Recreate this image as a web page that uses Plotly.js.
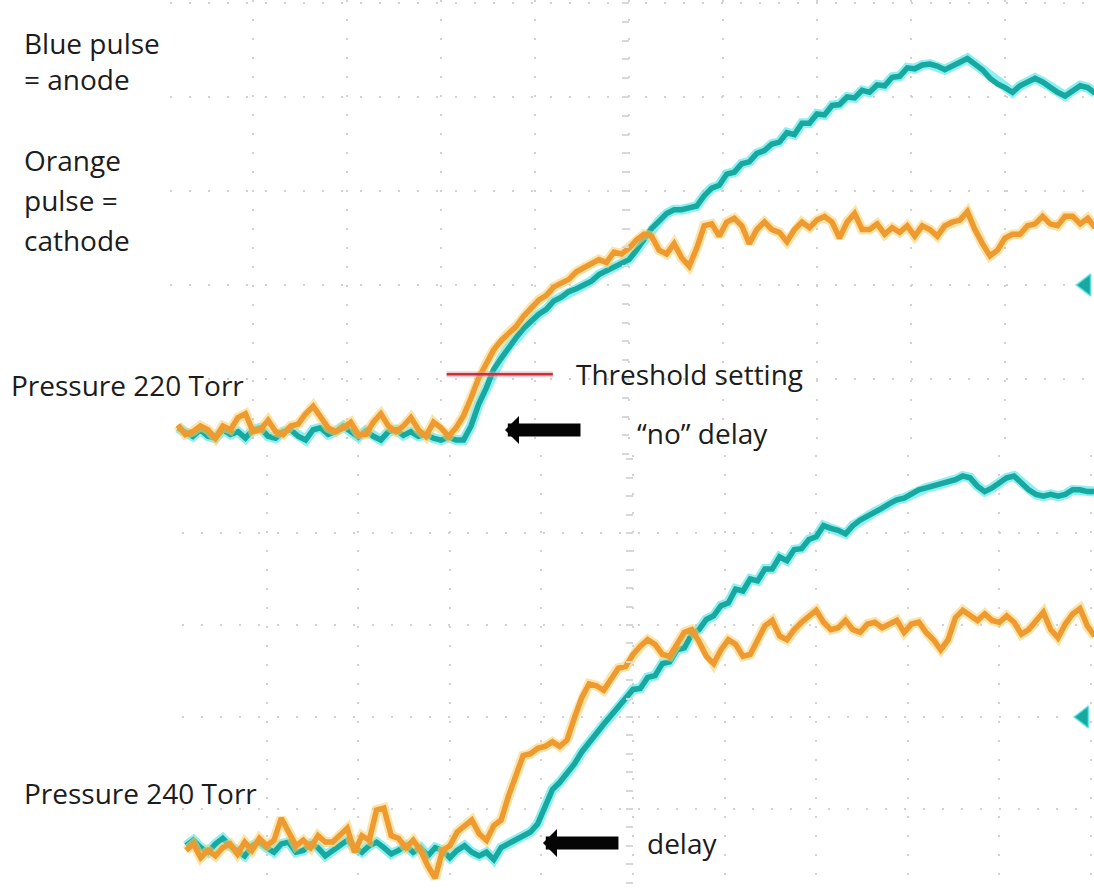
<!DOCTYPE html>
<html>
<head>
<meta charset="utf-8">
<script src="https://cdn.plot.ly/plotly-3.0.1.min.js"></script>
<style>
  html, body { margin: 0; padding: 0; background: #ffffff; }
  #chart { width: 1094px; height: 888px; }
</style>
</head>
<body>
<div id="chart"></div>
<script>
// ---- Data (time and amplitude in scope divisions) ----
// Upper capture: Pressure 220 Torr
const timeTop = [-4.80,-4.72,-4.64,-4.56,-4.48,-4.40,-4.32,-4.24,-4.16,-4.08,-4.00,-3.92,-3.84,-3.76,-3.68,-3.60,-3.52,-3.44,-3.36,-3.28,-3.20,-3.12,-3.04,-2.96,-2.88,-2.80,-2.72,-2.64,-2.56,-2.48,-2.40,-2.32,-2.24,-2.16,-2.08,-2.00,-1.92,-1.84,-1.76,-1.68,-1.60,-1.52,-1.44,-1.36,-1.28,-1.20,-1.12,-1.04,-0.96,-0.88,-0.80,-0.72,-0.64,-0.56,-0.48,-0.40,-0.32,-0.24,-0.16,-0.08,0.00,0.08,0.16,0.24,0.32,0.40,0.48,0.56,0.64,0.72,0.80,0.88,0.96,1.04,1.12,1.20,1.28,1.36,1.44,1.52,1.60,1.68,1.76,1.84,1.92,2.00,2.08,2.16,2.24,2.32,2.40,2.48,2.56,2.64,2.72,2.80,2.88,2.96,3.04,3.12,3.20,3.28,3.36,3.44,3.52,3.60,3.68,3.76,3.84,3.92,4.00,4.08,4.16,4.24,4.32,4.40,4.48,4.56,4.64,4.72,4.80,4.88,4.96];
const anodeTop = [-1.52,-1.56,-1.61,-1.54,-1.61,-1.63,-1.54,-1.59,-1.56,-1.63,
  -1.54,-1.52,-1.61,-1.63,-1.56,-1.54,-1.61,-1.65,-1.54,-1.52,
  -1.59,-1.56,-1.50,-1.56,-1.62,-1.55,-1.61,-1.65,-1.56,-1.54,
  -1.60,-1.56,-1.61,-1.59,-1.63,-1.65,-1.62,-1.65,-1.65,-1.50,
  -1.27,-1.10,-0.90,-0.78,-0.66,-0.56,-0.46,-0.39,-0.31,-0.26,
  -0.17,-0.13,-0.07,-0.04,0.00,0.04,0.11,0.15,0.18,0.22,
  0.27,0.37,0.48,0.60,0.68,0.76,0.80,0.80,0.82,0.84,
  0.95,1.03,1.06,1.18,1.20,1.29,1.31,1.40,1.43,1.50,
  1.52,1.62,1.60,1.72,1.72,1.82,1.81,1.91,1.92,2.00,
  1.99,2.07,2.05,2.13,2.12,2.21,2.22,2.31,2.30,2.34,
  2.35,2.33,2.29,2.33,2.37,2.41,2.35,2.29,2.20,2.14,
  2.10,2.05,2.12,2.16,2.20,2.16,2.10,2.05,2.01,2.07,
  2.12,2.10,2.04];
const cathodeTop = [-1.49,-1.59,-1.56,-1.50,-1.54,-1.63,-1.50,-1.54,-1.41,-1.37,
  -1.56,-1.54,-1.44,-1.56,-1.59,-1.50,-1.48,-1.37,-1.29,-1.41,
  -1.52,-1.56,-1.52,-1.46,-1.59,-1.59,-1.46,-1.37,-1.50,-1.56,
  -1.50,-1.41,-1.54,-1.61,-1.46,-1.52,-1.61,-1.52,-1.39,-1.20,
  -0.99,-0.84,-0.69,-0.59,-0.51,-0.44,-0.33,-0.24,-0.16,-0.11,
  -0.02,0.02,0.06,0.14,0.18,0.23,0.27,0.24,0.35,0.33,
  0.39,0.48,0.54,0.52,0.37,0.33,0.44,0.29,0.20,0.39,
  0.63,0.65,0.52,0.67,0.71,0.63,0.44,0.59,0.67,0.59,
  0.56,0.46,0.59,0.67,0.61,0.69,0.73,0.67,0.50,0.67,
  0.76,0.59,0.59,0.65,0.54,0.61,0.56,0.63,0.52,0.63,
  0.59,0.52,0.63,0.67,0.69,0.78,0.59,0.44,0.31,0.37,
  0.50,0.54,0.54,0.63,0.65,0.73,0.65,0.63,0.73,0.73,
  0.65,0.71,0.61];

// Lower capture: Pressure 240 Torr
const timeBottom = [-4.88,-4.80,-4.72,-4.64,-4.56,-4.48,-4.40,-4.32,-4.24,-4.16,-4.08,-4.00,-3.92,-3.84,-3.76,-3.68,-3.60,-3.52,-3.44,-3.36,-3.28,-3.20,-3.12,-3.04,-2.96,-2.88,-2.80,-2.72,-2.64,-2.56,-2.48,-2.40,-2.32,-2.24,-2.16,-2.08,-2.00,-1.92,-1.84,-1.76,-1.68,-1.60,-1.52,-1.44,-1.36,-1.28,-1.20,-1.12,-1.04,-0.96,-0.88,-0.80,-0.72,-0.64,-0.56,-0.48,-0.40,-0.32,-0.24,-0.16,-0.08,0.00,0.08,0.16,0.24,0.32,0.40,0.48,0.56,0.64,0.72,0.80,0.88,0.96,1.04,1.12,1.20,1.28,1.36,1.44,1.52,1.60,1.68,1.76,1.84,1.92,2.00,2.08,2.16,2.24,2.32,2.40,2.48,2.56,2.64,2.72,2.80,2.88,2.96,3.04,3.12,3.20,3.28,3.36,3.44,3.52,3.60,3.68,3.76,3.84,3.92,4.00,4.08,4.16,4.24,4.32,4.40,4.48,4.56,4.64,4.72,4.80,4.88,4.96,5.04];
const anodeBottom = [-1.40,-1.34,-1.42,-1.47,-1.38,-1.32,-1.40,-1.45,-1.51,-1.40,
  -1.36,-1.42,-1.47,-1.38,-1.36,-1.47,-1.45,-1.38,-1.42,-1.51,
  -1.45,-1.40,-1.34,-1.42,-1.47,-1.40,-1.36,-1.42,-1.49,-1.45,
  -1.40,-1.47,-1.42,-1.51,-1.42,-1.45,-1.53,-1.45,-1.40,-1.47,
  -1.51,-1.47,-1.55,-1.42,-1.38,-1.34,-1.29,-1.25,-1.16,-0.99,
  -0.79,-0.71,-0.62,-0.51,-0.38,-0.27,-0.18,-0.08,0.01,0.12,
  0.21,0.30,0.31,0.43,0.45,0.58,0.60,0.73,0.75,0.90,
  0.95,1.06,1.10,1.21,1.24,1.39,1.37,1.50,1.48,1.61,
  1.61,1.74,1.70,1.82,1.83,1.93,1.96,2.08,2.05,2.03,
  1.99,2.08,2.14,2.18,2.23,2.27,2.32,2.36,2.38,2.42,
  2.47,2.49,2.51,2.53,2.55,2.58,2.62,2.60,2.51,2.45,
  2.49,2.55,2.60,2.62,2.55,2.47,2.42,2.40,2.42,2.40,
  2.42,2.47,2.47,2.45,2.45];
const cathodeBottom = [-1.45,-1.38,-1.53,-1.45,-1.51,-1.42,-1.38,-1.49,-1.36,-1.45,
  -1.32,-1.40,-1.34,-1.10,-1.25,-1.40,-1.34,-1.42,-1.29,-1.36,
  -1.36,-1.29,-1.21,-1.47,-1.29,-1.34,-1.01,-0.99,-1.29,-1.32,
  -1.42,-1.34,-1.45,-1.62,-1.75,-1.45,-1.40,-1.25,-1.18,-1.12,
  -1.27,-1.34,-1.18,-1.12,-0.86,-0.62,-0.42,-0.40,-0.34,-0.32,
  -0.27,-0.32,-0.25,-0.01,0.21,0.36,0.34,0.29,0.42,0.53,
  0.55,0.68,0.77,0.84,0.79,0.68,0.66,0.79,0.92,0.95,
  0.82,0.66,0.58,0.73,0.84,0.79,0.66,0.68,0.82,0.99,
  1.05,0.88,0.84,0.95,1.03,1.10,1.16,1.03,0.95,0.97,
  1.05,0.95,0.92,1.01,1.03,0.97,1.01,1.05,0.92,1.01,
  1.03,0.92,0.84,0.73,0.84,1.08,1.16,1.10,1.05,1.12,
  1.05,1.03,1.10,1.03,0.90,0.95,1.05,1.14,0.95,0.86,
  1.01,1.12,1.18,0.99,0.88];

// Threshold level (upper capture) and channel ground markers
const thresholdTime = [-1.94, -0.81];
const thresholdLevel = [-0.95, -0.95];
const groundMarkTop = {t: [4.86], v: [0]};
const groundMarkBottom = {t: [4.92], v: [0]};

// ---- Styles ----
const CYAN = '#17a89f', CYAN_GLOW = 'rgba(70,228,235,0.6)';
const ORANGE = '#ee9a30', ORANGE_GLOW = 'rgba(252,208,100,0.55)';
const TXT = '#1c1c1c';
const FONT = '"Open Sans", Lato, sans-serif';

function wave(x, y, color, width, xa, ya) {
  return {x: x, y: y, type: 'scatter', mode: 'lines', xaxis: xa, yaxis: ya,
    line: {color: color, width: width, shape: 'linear'}, hoverinfo: 'skip'};
}

const data = [
  wave(timeTop, anodeTop, CYAN_GLOW, 10, 'x', 'y'),
  wave(timeTop, anodeTop, CYAN, 5.5, 'x', 'y'),
  wave(timeTop, cathodeTop, ORANGE_GLOW, 10, 'x', 'y'),
  wave(timeTop, cathodeTop, ORANGE, 5.5, 'x', 'y'),
  wave(timeBottom, anodeBottom, CYAN_GLOW, 10, 'x2', 'y2'),
  wave(timeBottom, anodeBottom, CYAN, 5.5, 'x2', 'y2'),
  wave(timeBottom, cathodeBottom, ORANGE_GLOW, 10, 'x2', 'y2'),
  wave(timeBottom, cathodeBottom, ORANGE, 5.5, 'x2', 'y2'),
  {x: thresholdTime, y: thresholdLevel, type: 'scatter', mode: 'lines', xaxis: 'x', yaxis: 'y',
   line: {color: 'rgba(240,150,160,0.5)', width: 6}, hoverinfo: 'skip'},
  {x: thresholdTime, y: thresholdLevel, type: 'scatter', mode: 'lines', xaxis: 'x', yaxis: 'y',
   line: {color: '#c8303c', width: 2.5}, hoverinfo: 'skip'},
  {x: groundMarkTop.t, y: groundMarkTop.v, type: 'scatter', mode: 'markers', xaxis: 'x', yaxis: 'y',
   marker: {symbol: 'triangle-left', size: 19, color: CYAN, line: {color: CYAN_GLOW, width: 2}}, hoverinfo: 'skip'},
  {x: groundMarkBottom.t, y: groundMarkBottom.v, type: 'scatter', mode: 'markers', xaxis: 'x2', yaxis: 'y2',
   marker: {symbol: 'triangle-left', size: 19, color: CYAN, line: {color: CYAN_GLOW, width: 2}}, hoverinfo: 'skip'}
];

const gridStyle = {showgrid: true, gridcolor: '#d2d2d2', gridwidth: 2, griddash: '2px,17px',
  zeroline: false, showline: false, showticklabels: false, ticks: '', dtick: 1, tick0: 0, fixedrange: true};

function ann(text, x, y, size) {
  return {text: text, xref: 'paper', yref: 'paper', x: x, y: y, xanchor: 'left', yanchor: 'middle',
    showarrow: false, align: 'left', font: {family: FONT, size: size || 28, color: TXT}};
}
function arrow(x, y) {
  return {text: '', xref: 'paper', yref: 'paper', x: x, y: y, ax: 77, ay: 0,
    showarrow: true, arrowhead: 1, arrowsize: 0.36, arrowwidth: 13, arrowcolor: '#050505', standoff: 0};
}

const layout = {
  width: 1094, height: 888,
  margin: {l: 0, r: 0, t: 0, b: 0, pad: 0},
  paper_bgcolor: '#ffffff', plot_bgcolor: '#ffffff',
  showlegend: false,
  xaxis: Object.assign({}, gridStyle, {domain: [0.1554, 1], range: [-4.883, 4.947], anchor: 'y'}),
  yaxis: Object.assign({}, gridStyle, {domain: [0.4876, 1], range: [-1.809, 3.032], anchor: 'x'}),
  xaxis2: Object.assign({}, gridStyle, {domain: [0.1664, 1], range: [-4.924, 5.033], anchor: 'y2'}),
  yaxis2: Object.assign({}, gridStyle, {domain: [0, 0.4876], range: [-1.859, 2.848], anchor: 'x2'}),
  // centre graticule with minor ticks
  yaxis3: {overlaying: 'y', anchor: 'free', position: 0.575, range: [-1.809, 3.032], showgrid: false,
    zeroline: false, showline: false, showticklabels: false, ticks: 'outside', ticklen: 7, tickwidth: 2,
    tickcolor: '#d8d8d8', dtick: 0.2, tick0: 0, fixedrange: true},
  yaxis4: {overlaying: 'y2', anchor: 'free', position: 0.5786, range: [-1.859, 2.848], showgrid: false,
    zeroline: false, showline: false, showticklabels: false, ticks: 'outside', ticklen: 7, tickwidth: 2,
    tickcolor: '#d8d8d8', dtick: 0.2, tick0: 0, fixedrange: true},
  annotations: [
    ann('Blue pulse', 0.0200, 0.9516),
    ann('= anode', 0.0200, 0.9110),
    ann('Orange', 0.0200, 0.8198),
    ann('pulse =', 0.0200, 0.7748),
    ann('cathode', 0.0200, 0.7297),
    ann('Pressure 220 Torr', 0.0080, 0.5665),
    ann('Threshold setting', 0.5245, 0.5790),
    ann('\u201Cno\u201D delay', 0.5800, 0.5125),
    ann('Pressure 240 Torr', 0.0200, 0.1071),
    ann('delay', 0.5900, 0.0508),
    arrow(0.4616, 0.5158),
    arrow(0.4963, 0.0507)
  ]
};

// invisible traces to activate centre-graticule axes
data.push({x: [0], y: [null], xaxis: 'x', yaxis: 'y3', type: 'scatter', mode: 'markers', hoverinfo: 'skip'});
data.push({x: [0], y: [null], xaxis: 'x2', yaxis: 'y4', type: 'scatter', mode: 'markers', hoverinfo: 'skip'});

Plotly.newPlot('chart', data, layout, {displayModeBar: false, staticPlot: true});
</script>
</body>
</html>
